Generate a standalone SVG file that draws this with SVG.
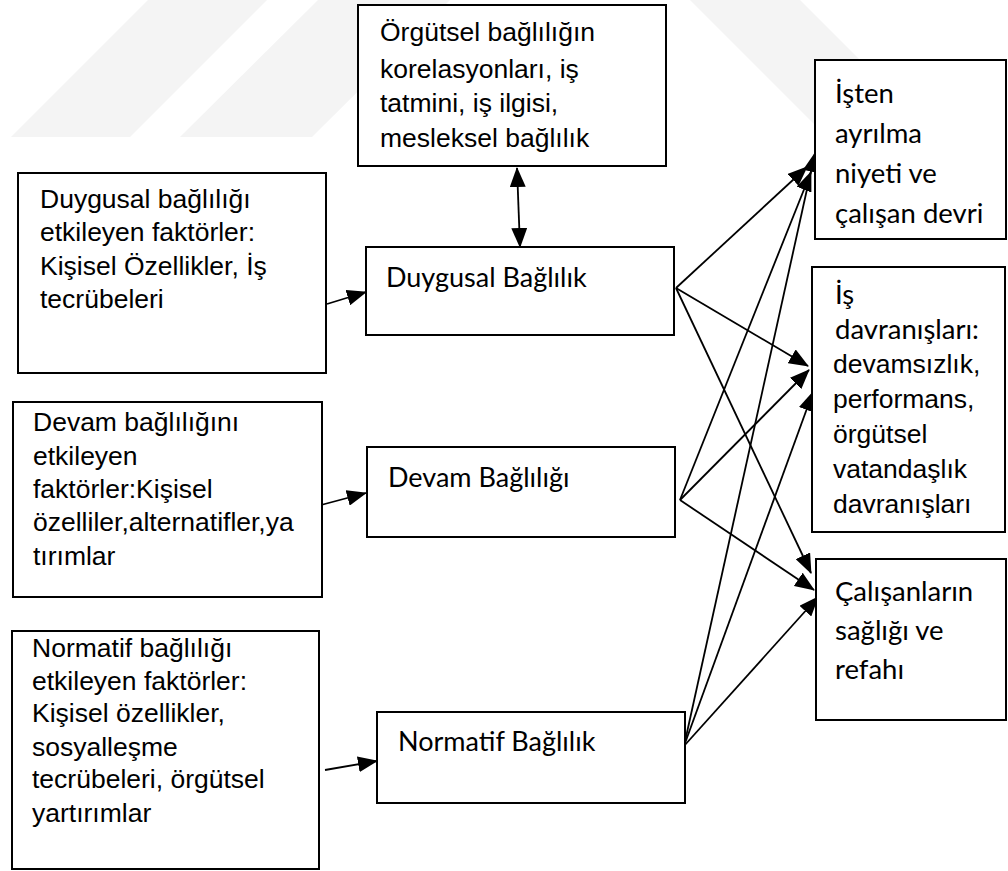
<svg xmlns="http://www.w3.org/2000/svg" width="1008" height="871" viewBox="0 0 1008 871">
<defs>
<style>
.box{fill:#fff;stroke:#000;stroke-width:2}
.ar{font-family:"Liberation Sans",Arial,sans-serif;font-size:26.5px;fill:#000}
.cb{font-family:Lato,"Open Sans",sans-serif;font-size:27.5px;fill:#000}
.cm{font-family:Lato,"Open Sans",sans-serif;font-size:27px;fill:#000}
.ln{stroke:#000;stroke-width:1.8;fill:none;marker-end:url(#ah)}
.wm{fill:#f4f4f4}
</style>
<marker id="ah" markerUnits="userSpaceOnUse" markerWidth="20" markerHeight="16" refX="19" refY="8" orient="auto">
<path d="M0,0 L20,8 L0,16 z" fill="#000"/>
</marker>
<marker id="ahs" markerUnits="userSpaceOnUse" markerWidth="20" markerHeight="16" refX="1" refY="8" orient="auto">
<path d="M20,0 L0,8 L20,16 z" fill="#000"/>
</marker>
</defs>
<g id="watermark">
<polygon class="wm" points="148,0 267,0 130,137 11,137"/>
<polygon class="wm" points="318,0 450,0 312,137 180,137"/>
<polygon class="wm" points="690,0 800,0 937,137 827,137"/>
</g>
<g id="connectors">
<line class="ln" x1="517" y1="168" x2="520" y2="247" style="marker-start:url(#ahs)"/>
<line class="ln" x1="327" y1="304" x2="366" y2="292"/>
<line class="ln" x1="321" y1="505" x2="366" y2="493"/>
<line class="ln" x1="325" y1="770" x2="377" y2="761"/>
<line class="ln" x1="676" y1="288" x2="807" y2="167"/>
<line class="ln" x1="676" y1="288" x2="808" y2="366"/>
<line class="ln" x1="676" y1="288" x2="811" y2="573"/>
<line class="ln" x1="680" y1="500" x2="811" y2="172"/>
<line class="ln" x1="680" y1="500" x2="809" y2="370"/>
<line class="ln" x1="680" y1="500" x2="814" y2="590"/>
<line class="ln" x1="684" y1="746" x2="815" y2="153"/>
<line class="ln" x1="684" y1="746" x2="813" y2="392"/>
<line class="ln" x1="684" y1="746" x2="818" y2="597"/>
</g>
<g id="n_top">
<rect class="box" x="358" y="5" width="308" height="161"/>
<text class="ar" x="380" y="41">Örgütsel bağlılığın</text>
<text class="ar" x="380" y="78">korelasyonları, iş</text>
<text class="ar" x="380" y="112">tatmini, iş ilgisi,</text>
<text class="ar" x="380" y="147">mesleksel bağlılık</text>
</g>
<g id="n_left1">
<rect class="box" x="18" y="173" width="308" height="200"/>
<text class="ar" x="40" y="208">Duygusal bağlılığı</text>
<text class="ar" x="40" y="241">etkileyen faktörler:</text>
<text class="ar" x="40" y="275">Kişisel Özellikler, İş</text>
<text class="ar" x="40" y="308">tecrübeleri</text>
</g>
<g id="n_left2">
<rect class="box" x="13" y="402" width="309" height="195"/>
<text class="ar" x="33" y="431">Devam bağlılığını</text>
<text class="ar" x="33" y="465">etkileyen</text>
<text class="ar" x="33" y="498">faktörler:Kişisel</text>
<text class="ar" x="33" y="531">özelliler,alternatifler,ya</text>
<text class="ar" x="33" y="565">tırımlar</text>
</g>
<g id="n_left3">
<rect class="box" x="12" y="631" width="307" height="238"/>
<text class="ar" x="32" y="657">Normatif bağlılığı</text>
<text class="ar" x="32" y="690">etkileyen faktörler:</text>
<text class="ar" x="32" y="722">Kişisel özellikler,</text>
<text class="ar" x="32" y="756">sosyalleşme</text>
<text class="ar" x="32" y="788">tecrübeleri, örgütsel</text>
<text class="ar" x="32" y="822">yartırımlar</text>
</g>
<g id="n_duygusal">
<rect class="box" x="366" y="247" width="308" height="88"/>
<text class="cm" x="386" y="287">Duygusal Bağlılık</text>
</g>
<g id="n_devam">
<rect class="box" x="367" y="447" width="308" height="90"/>
<text class="cm" x="388" y="487">Devam Bağlılığı</text>
</g>
<g id="n_normatif">
<rect class="box" x="377" y="712" width="308" height="91"/>
<text class="cm" x="398" y="751">Normatif Bağlılık</text>
</g>
<g id="n_r1">
<rect class="box" x="815" y="60" width="191" height="179"/>
<text class="cb" x="835" y="103">İşten</text>
<text class="cb" x="835" y="143">ayrılma</text>
<text class="cb" x="835" y="183">niyeti ve</text>
<text class="cb" x="835" y="223">çalışan devri</text>
</g>
<g id="n_r2">
<rect class="box" x="812" y="267" width="193" height="265"/>
<text class="cb" x="835" y="304">İş</text>
<text class="cb" x="835" y="339">davranışları:</text>
<text class="ar" x="833" y="373">devamsızlık,</text>
<text class="ar" x="833" y="408">performans,</text>
<text class="ar" x="833" y="443">örgütsel</text>
<text class="ar" x="833" y="478">vatandaşlık</text>
<text class="ar" x="833" y="513">davranışları</text>
</g>
<g id="n_r3">
<rect class="box" x="816" y="559" width="190" height="161"/>
<text class="cb" x="835" y="601">Çalışanların</text>
<text class="cb" x="835" y="640">sağlığı ve</text>
<text class="cb" x="835" y="679">refahı</text>
</g>
</svg>
